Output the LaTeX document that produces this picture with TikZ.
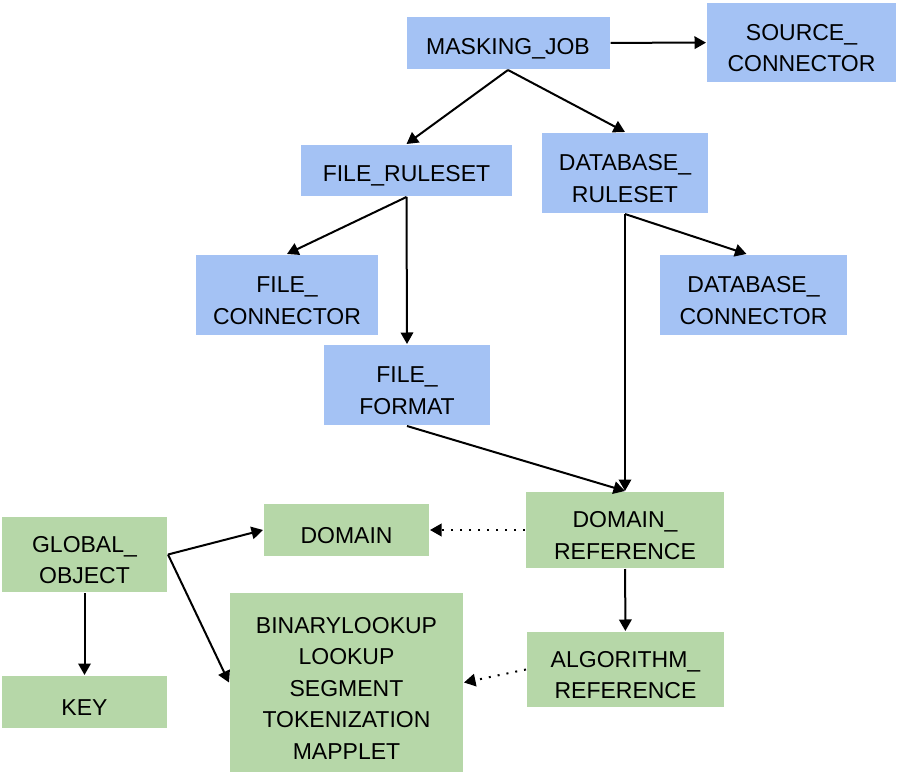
\documentclass[tikz,border=0pt]{standalone}
\usepackage{fontspec}
\setmainfont{Liberation Sans}
\usetikzlibrary{arrows.meta,shapes,calc}

\definecolor{boxblue}{HTML}{A4C2F4}
\definecolor{boxgreen}{HTML}{B6D7A8}

\begin{document}
\begin{tikzpicture}[x=1pt,y=-1pt,->,>={Triangle[length=11.5pt,width=12.5pt]},line width=2pt,
  box text/.style={inner sep=0pt,align=center,font=\fontsize{23}{31.5}\selectfont,yshift=-5.5pt},
  main node/.style={inner sep=0pt},
  blue node/.style={main node,fill=boxblue},
  green node/.style={main node,fill=boxgreen},
  soft link/.style={dash pattern=on 2pt off 7pt}]

  \useasboundingbox (0,0) rectangle (897,775);

  \node[blue node,minimum width=203pt,minimum height=52pt,label={[box text]center:{MASKING\_JOB}}] (1) at (508,43) {};
  \node[blue node,minimum width=189pt,minimum height=79pt,label={[box text]center:{SOURCE\_\\CONNECTOR}}] (2) at (801.5,42.5) {};
  \node[blue node,minimum width=211pt,minimum height=51pt,label={[box text]center:{FILE\_RULESET}}] (3) at (406.5,170.5) {};
  \node[blue node,minimum width=166pt,minimum height=80pt,label={[box text]center:{DATABASE\_\\RULESET}}] (4) at (625,173) {};
  \node[blue node,minimum width=182pt,minimum height=80pt,label={[box text]center:{FILE\_\\CONNECTOR}}] (5) at (287,295) {};
  \node[blue node,minimum width=187pt,minimum height=80pt,label={[box text]center:{DATABASE\_\\CONNECTOR}}] (6) at (753.5,295) {};
  \node[blue node,minimum width=166pt,minimum height=80pt,label={[box text]center:{FILE\_\\FORMAT}}] (7) at (407,385) {};
  \node[green node,minimum width=198pt,minimum height=76pt,label={[box text]center:{DOMAIN\_\\REFERENCE}}] (8) at (625,530) {};
  \node[green node,minimum width=165pt,minimum height=52pt,label={[box text]center:{DOMAIN}}] (9) at (346.5,530) {};
  \node[green node,minimum width=165pt,minimum height=75pt,label={[box text]center:{GLOBAL\_\\OBJECT}}] (10) at (84.5,554.5) {};
  \node[green node,minimum width=165pt,minimum height=52pt,label={[box text]center:{KEY}}] (11) at (84.5,702) {};
  \node[green node,minimum width=233pt,minimum height=179pt,
    label={[box text]center:{BINARYLOOKUP\\LOOKUP\\SEGMENT\\TOKENIZATION\\MAPPLET}}] (12) at (346.5,682.5) {};
  \node[green node,minimum width=197pt,minimum height=75pt,label={[box text]center:{ALGORITHM\_\\REFERENCE}}] (13) at (625.5,669.5) {};

  \path
    (1) edge (2)
    (1.south) edge (3.north)
    (1.south) edge (4.north)
    (3.south) edge (5.north)
    (3.south) edge (7.north)
    (4.south) edge ($(6.north)+(-7,0)$)
    (4.south) edge (8.north)
    (7.south) edge (8.north)
    (10.east) edge (9.west)
    (10.east) edge (12.west)
    (10) edge (11)
    (8) edge (13);

  \path[soft link]
    (8) edge (9)
    (13.west) edge (12.east);
\end{tikzpicture}
\end{document}
